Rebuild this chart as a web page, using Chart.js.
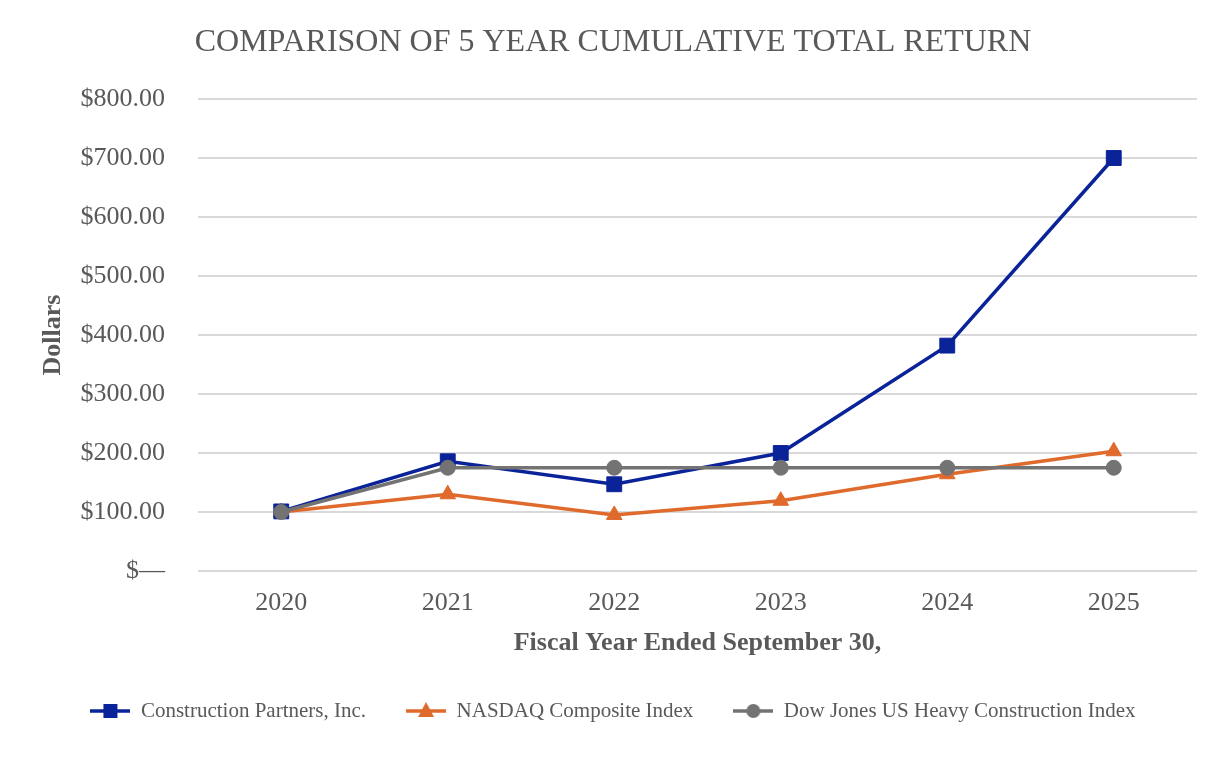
<!DOCTYPE html>
<html>
<head>
<meta charset="utf-8">
<script src="https://cdn.jsdelivr.net/npm/chart.js@4"></script>
<style>
html,body{margin:0;padding:0;background:#fff;}
#wrap{width:1226px;height:760px;}
</style>
</head>
<body>
<div id="wrap"><canvas id="c" width="1226" height="760"></canvas></div>
<script>
const years = ['2020', '2021', '2022', '2023', '2024', '2025'];
const constructionPartners = [101, 186, 147, 200, 382, 700];
const nasdaqComposite = [100, 130, 95, 119, 164, 203];
const dowJonesHeavyConstruction = [100, 175, 175, 175, 175, 175];
const yTickLabels = ['$\u2014', '$100.00', '$200.00', '$300.00', '$400.00', '$500.00', '$600.00', '$700.00', '$800.00'];
const seriesNames = ['Construction Partners, Inc.', 'NASDAQ Composite Index', 'Dow Jones US Heavy Construction Index'];

const BLUE = '#0B2399', ORANGE = '#DF6A2C', GRAY = '#737373', TXT = '#595959';
const SERIF = "'Liberation Serif', 'Times New Roman', serif";

function makeIcon(color, style) {
  const cv = document.createElement('canvas');
  cv.width = 40; cv.height = 22;
  const g = cv.getContext('2d');
  g.strokeStyle = color; g.fillStyle = color; g.lineWidth = 3.5;
  g.beginPath(); g.moveTo(0, 11); g.lineTo(40, 11); g.stroke();
  g.beginPath();
  if (style === 'rect') { g.rect(13, 4, 14, 14); }
  else if (style === 'triangle') { g.moveTo(20, 2); g.lineTo(28, 17); g.lineTo(12, 17); g.closePath(); }
  else { g.arc(20, 11, 7, 0, Math.PI * 2); }
  g.fill();
  return cv;
}
const icons = [makeIcon(BLUE, 'rect'), makeIcon(ORANGE, 'triangle'), makeIcon(GRAY, 'circle')];

new Chart(document.getElementById('c'), {
  type: 'line',
  data: {
    labels: years,
    datasets: [
      { label: seriesNames[0], data: constructionPartners, borderColor: BLUE, backgroundColor: BLUE,
        borderWidth: 3.5, pointStyle: 'rect', pointRadius: 10.5, pointHoverRadius: 10.5, pointBorderWidth: 1, order: 1 },
      { label: seriesNames[1], data: nasdaqComposite, borderColor: ORANGE, backgroundColor: ORANGE,
        borderWidth: 3.5, pointStyle: 'triangle', pointRadius: 9, pointHoverRadius: 9, pointBorderWidth: 1, order: 2 },
      { label: seriesNames[2], data: dowJonesHeavyConstruction, borderColor: GRAY, backgroundColor: GRAY,
        borderWidth: 3.5, pointStyle: 'circle', pointRadius: 7.5, pointHoverRadius: 7.5, pointBorderWidth: 1, order: 0 }
    ]
  },
  options: {
    responsive: false,
    animation: false,
    devicePixelRatio: 1,
    layout: { padding: { top: 0, left: 29, right: 29, bottom: 28.5 } },
    plugins: {
      title: {
        display: true,
        text: 'COMPARISON OF 5 YEAR CUMULATIVE TOTAL RETURN',
        color: TXT,
        font: { family: SERIF, size: 32, weight: 'normal', lineHeight: 1.2 },
        padding: { top: 23, bottom: 37.6 }
      },
      legend: {
        position: 'bottom',
        labels: {
          usePointStyle: true,
          pointStyleWidth: 40,
          padding: 40,
          color: TXT,
          font: { family: SERIF, size: 21 },
          sort: (a, b) => a.datasetIndex - b.datasetIndex,
          generateLabels: (chart) => {
            const items = Chart.defaults.plugins.legend.labels.generateLabels(chart);
            items.forEach(it => { it.pointStyle = icons[it.datasetIndex]; });
            return items;
          }
        }
      },
      tooltip: { enabled: false }
    },
    scales: {
      x: {
        offset: true,
        afterFit: s => { s.height = 89.5; },
        grid: { display: false, drawTicks: false },
        border: { display: false },
        ticks: { color: TXT, font: { family: SERIF, size: 26 }, padding: 16.4 },
        title: { display: true, text: 'Fiscal Year Ended September 30,', color: TXT,
                 font: { family: SERIF, size: 26, weight: 'bold' }, padding: { top: 8.8, bottom: 1.9 } }
      },
      y: {
        min: 0, max: 800,
        afterFit: s => { s.width = 169; },
        grid: { color: '#d9d9d9', lineWidth: 2, drawTicks: false },
        border: { display: false },
        ticks: { stepSize: 100, color: TXT, font: { family: SERIF, size: 26 }, padding: 33,
                 callback: (v, i) => yTickLabels[i] },
        title: { display: true, text: 'Dollars', color: TXT,
                 font: { family: SERIF, size: 26, weight: 'bold' }, padding: { top: 9, bottom: 0 } }
      }
    }
  }
});
</script>
</body>
</html>
